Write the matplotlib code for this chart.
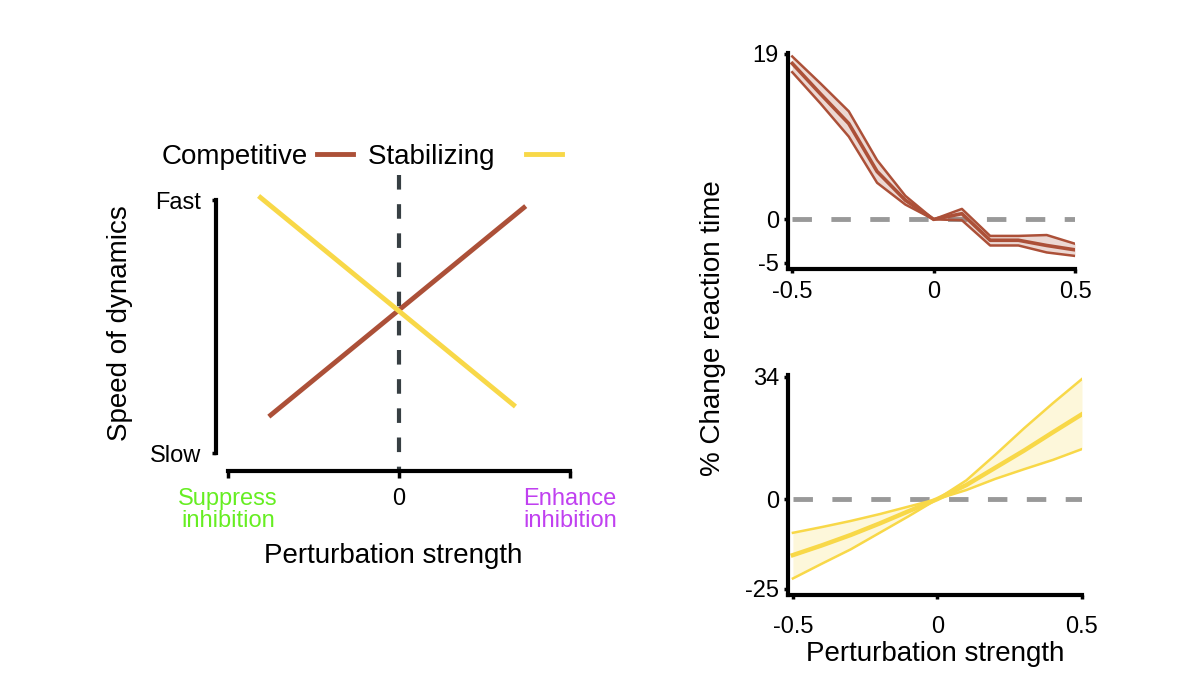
import matplotlib
matplotlib.use("Agg")
import matplotlib.pyplot as plt
import numpy as np

plt.rcParams['font.family'] = ['Liberation Sans', 'DejaVu Sans']

W, H = 1200, 675

# schematic (left)
comp_x = [-0.75, 0.73]
comp_y = [0.15, 0.97]
stab_x = [-0.81, 0.67]
stab_y = [1.01, 0.19]
speed_ticks = [0, 1]
speed_labels = ['Slow', 'Fast']
pert_ticks = [-1, 0, 1]
pert_labels = ['Suppress\ninhibition', '0', 'Enhance\ninhibition']
pert_colors = ['#66ee22', 'black', '#c040f0']

# competitive network, % change in reaction time (top right)
x_top = [-0.5, -0.4, -0.3, -0.2, -0.1, 0.0, 0.1, 0.2, 0.3, 0.4, 0.5]
top_mean = [17.9, 14.4, 11.0, 5.5, 2.2, 0.0, 0.65, -2.4, -2.4, -3.0, -3.5]
top_hi = [18.7, 15.6, 12.4, 6.8, 2.7, 0.0, 1.2, -1.9, -1.9, -1.8, -2.8]
top_lo = [16.9, 13.3, 9.5, 4.2, 1.7, 0.0, -0.1, -3.0, -3.0, -3.8, -4.2]

# stabilizing network (bottom right)
x_bot = [-0.5, -0.4, -0.3, -0.2, -0.1, 0.0, 0.1, 0.2, 0.3, 0.4, 0.5]
bot_mean = [-15.6, -12.9, -10.0, -6.8, -3.4, 0.0, 3.9, 8.7, 13.5, 18.6, 23.6]
bot_steep = [-22.1, -18.0, -14.0, -9.4, -4.8, 0.0, 5.2, 12.3, 19.7, 26.7, 33.4]
bot_flat = [-9.4, -7.8, -6.1, -4.2, -2.1, 0.0, 2.5, 5.6, 8.3, 10.9, 13.9]

BROWN = '#ac5038'
YELLOW = '#f8d848'
GREY = '#999999'


def rect(left, top, right, bottom):
    return [left / W, 1 - bottom / H, (right - left) / W, (bottom - top) / H]


def style_axes(ax):
    for s in ['top', 'right']:
        ax.spines[s].set_visible(False)
    for s in ['left', 'bottom']:
        ax.spines[s].set_linewidth(3)
    ax.tick_params(width=2.5, length=3, labelsize=17)


fig = plt.figure(figsize=(12, 6.75), dpi=100)

# ---- left schematic
ax = fig.add_axes(rect(216, 175, 570, 471))
style_axes(ax)
ax.set_xlim(-1.07, 1.0)
ax.set_ylim(-0.071, 1.099)
ax.spines['bottom'].set_bounds(-1, 1)
ax.spines['left'].set_bounds(0, 1)
ax.plot([0, 0], [1.099, -0.071], color='#373f43', lw=3,
        linestyle=(0, (3.5, 3.5)), zorder=1)
ax.plot(comp_x, comp_y, color=BROWN, lw=3.5, label='Competitive')
ax.plot(stab_x, stab_y, color=YELLOW, lw=3.5, label='Stabilizing   ')
ax.set_yticks(speed_ticks)
ax.set_yticklabels(speed_labels)
ax.set_xticks(pert_ticks)
ax.set_xticklabels(pert_labels, linespacing=1.0)
for lab, c in zip(ax.get_xticklabels(), pert_colors):
    lab.set_color(c)
ax.tick_params(axis='y', pad=8)
ax.tick_params(axis='x', length=5, pad=7)
ax.set_ylabel('Speed of dynamics', fontsize=20, labelpad=12)
ax.set_xlabel('Perturbation strength', fontsize=20, labelpad=8)
ax.legend(loc='center', bbox_to_anchor=(362 / W, 1 - 157 / H),
          bbox_transform=fig.transFigure, ncol=2, frameon=False,
          markerfirst=False, fontsize=20, handlelength=1.3,
          handletextpad=0.3, columnspacing=0.55, borderpad=0)

# ---- top right
ax1 = fig.add_axes(rect(788, 53, 1075, 269))
style_axes(ax1)
ax1.set_xlim(-0.515, 0.5)
ax1.set_ylim(-5.7, 19.1)
ax1.plot([-0.5, 0.5], [0, 0], color=GREY, lw=3.5, linestyle=(0, (4, 4)), zorder=1)
ax1.fill_between(x_top, top_lo, top_hi, color=BROWN, alpha=0.22, lw=0)
ax1.plot(x_top, top_hi, color=BROWN, lw=1.8)
ax1.plot(x_top, top_lo, color=BROWN, lw=1.8)
ax1.plot(x_top, top_mean, color=BROWN, lw=2.6)
ax1.set_yticks([-5, 0, 19])
ax1.set_yticklabels(['-5', '0', '19'])
ax1.set_xticks([-0.5, 0, 0.5])
ax1.set_xticklabels(['-0.5', '0', '0.5'])
ax1.tick_params(axis='x', pad=6)

# ---- bottom right
ax2 = fig.add_axes(rect(788, 375, 1082, 595))
style_axes(ax2)
ax2.set_xlim(-0.517, 0.5)
ax2.set_ylim(-26.7, 34.5)
ax2.plot([-0.5, 0.5], [0, 0], color=GREY, lw=3.5, linestyle=(0, (4, 4)), zorder=1)
ax2.fill_between(x_bot, bot_flat, bot_steep, color=YELLOW, alpha=0.2, lw=0)
ax2.plot(x_bot, bot_steep, color=YELLOW, lw=1.8)
ax2.plot(x_bot, bot_flat, color=YELLOW, lw=1.8)
ax2.plot(x_bot, bot_mean, color=YELLOW, lw=3.2)
ax2.set_yticks([-25, 0, 34])
ax2.set_yticklabels(['-25', '0', '34'])
ax2.set_xticks([-0.5, 0, 0.5])
ax2.set_xticklabels(['-0.5', '0', '0.5'])
ax2.tick_params(axis='x', pad=12)
ax2.set_xlabel('Perturbation strength', fontsize=20, labelpad=2)

fig.text(713 / W, 1 - 328 / H, '% Change reaction time', rotation=90,
         fontsize=20, ha='center', va='center')

fig.savefig('out.png', dpi=100)
